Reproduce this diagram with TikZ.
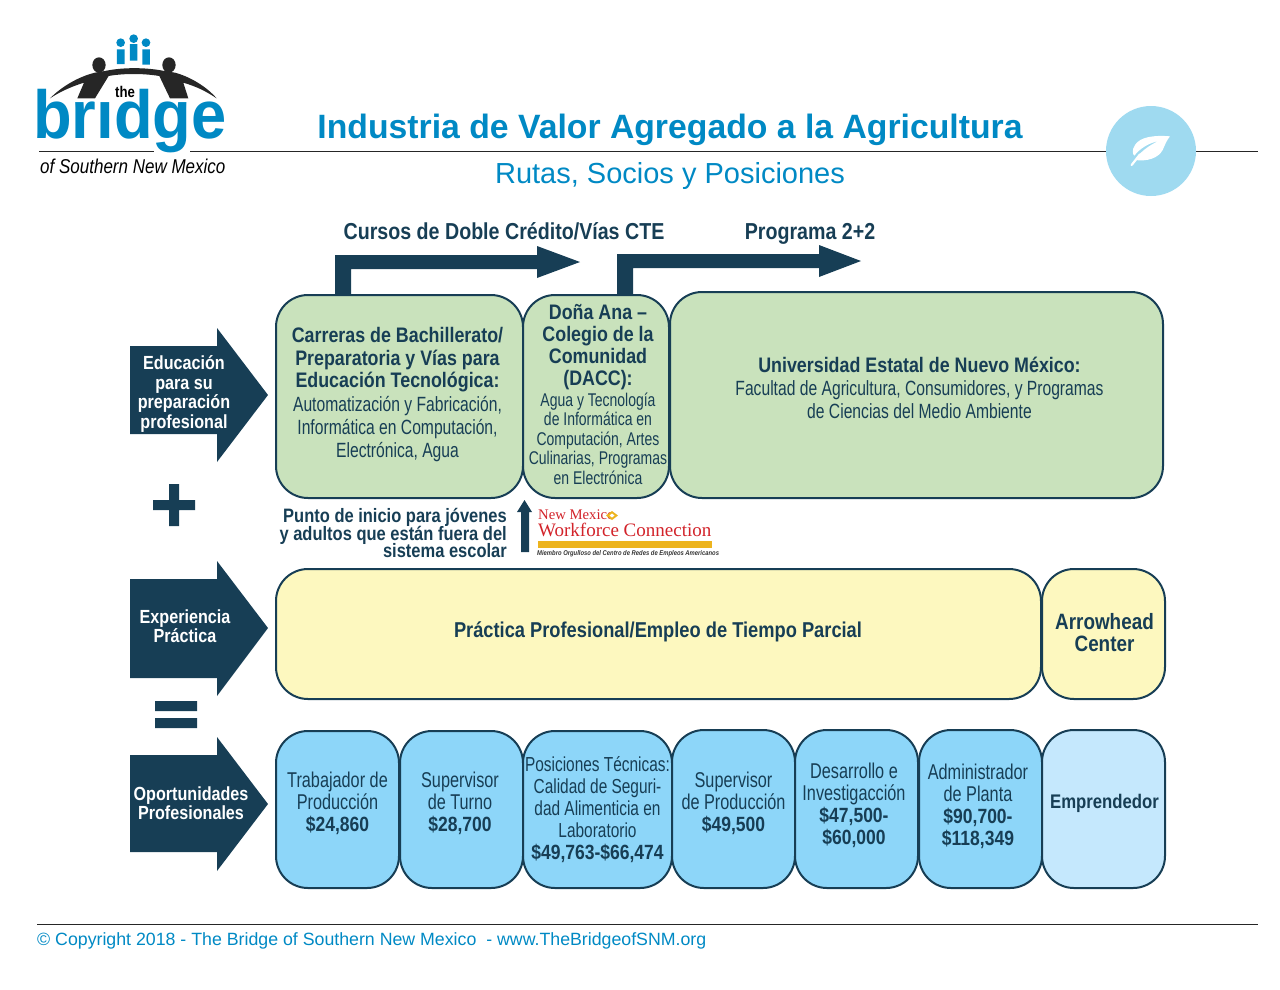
\documentclass[tikz,border=0pt]{standalone}
\usepackage{fontspec}
\setmainfont{Liberation Sans}
\newfontfamily\cnd[FakeStretch=0.76,BoldFeatures={FakeStretch=0.85}]{Liberation Sans}
\newfontfamily\lgo[FakeStretch=0.93]{Liberation Sans}
\newfontfamily\lgs[FakeStretch=0.85]{Liberation Sans}
\newfontfamily\wfc{Liberation Serif}
\definecolor{navy}{HTML}{173E55}
\definecolor{brandblue}{HTML}{0089C4}
\definecolor{lgreen}{HTML}{C9E2BC}
\definecolor{lyellow}{HTML}{FDF8BF}
\definecolor{mblue}{HTML}{8DD6F9}
\definecolor{pblue}{HTML}{C5E8FD}
\definecolor{circ}{HTML}{9FDAF0}
\definecolor{wred}{HTML}{D2232A}
\definecolor{wgold}{HTML}{EDB41E}
\tikzset{
  box/.style={draw=navy,line width=2pt,rounded corners=32pt,outer sep=0pt,inner sep=0pt,anchor=north west},
  lbl/.style={text=navy,align=center,inner sep=0pt,font=\cnd\fontsize{20.6}{23}\selectfont},
  jobl/.style={lbl,font=\cnd\fontsize{21.4}{22}\selectfont},
  sidelbl/.style={text=white,align=center,inner sep=0pt,font=\cnd\bfseries\fontsize{19}{19.5}\selectfont},
  headlbl/.style={text=navy,inner sep=0pt,font=\cnd\bfseries\fontsize{23.1}{26}\selectfont},
  rulee/.style={draw=black!85,line width=1pt},
  brandtxt/.style={text=brandblue,inner sep=0pt},
}
\newcommand{\bfl}[1]{{\bfseries\fontsize{21}{22.5}\selectfont #1}}
\newcommand{\mny}[1]{{\bfseries\fontsize{20.6}{22}\selectfont #1}}
\begin{document}
\begin{tikzpicture}[x=1pt,y=-1pt]
\useasboundingbox (0,0) rectangle (1280,989);
% rules
\coordinate (ruleA) at (39,151); \coordinate (ruleB) at (154,151);
\coordinate (ruleC) at (190,151); \coordinate (ruleD) at (1258,151);
\draw[rulee] (ruleA) -- (ruleB);
\draw[rulee] (ruleC) -- (ruleD);
\coordinate (footA) at (37,924); \coordinate (footB) at (1258,924);
\draw[rulee] (footA) -- (footB);
% logo
\begin{scope}[shift={(20,20)},x=0.3333pt,y=-0.3333pt]
  \fill[brandblue] (302,68) circle[radius=13] (341,56) circle[radius=13] (378,68) circle[radius=13];
  \fill[brandblue] (291,88) rectangle (314,132) (330,72) rectangle (352,122) (367,88) rectangle (390,134);
  \fill[black!85] (237,135) ellipse[x radius=20,y radius=23] (447,135) ellipse[x radius=20,y radius=23];
  \fill[black!85] (90,235) .. controls (125,200) and (175,170) .. (225,158) -- (260,152)
     .. controls (310,142) and (375,142) .. (428,152) -- (465,158)
     .. controls (510,170) and (560,200) .. (590,235)
     .. controls (555,212) and (530,200) .. (490,188) -- (505,235) -- (450,235) -- (418,168)
     .. controls (370,160) and (310,160) .. (266,168) -- (225,235) -- (172,235) -- (192,188)
     .. controls (160,198) and (125,212) .. (90,235) -- cycle;
\end{scope}
\node[inner sep=0pt,anchor=base] (logoThe) at (125,97.5) {\lgs\bfseries\fontsize{15.5}{15}\selectfont the};
\node[brandtxt,anchor=base west] (logoBridge) at (33,138) {\lgo\bfseries\fontsize{68}{68}\selectfont br\i dge};
\node[inner sep=0pt,anchor=base west] (logoSub) at (40,173.5) {\lgs\itshape\fontsize{20}{20}\selectfont of Southern New Mexico};
% title
\node[brandtxt,anchor=base] (title) at (670,138) {\bfseries\fontsize{33.75}{36}\selectfont Industria de Valor Agregado a la Agricultura};
\node[brandtxt,anchor=base] (subtitle) at (670,183.5) {\fontsize{29}{30}\selectfont Rutas, Socios y Posiciones};
% leaf circle
\fill[circ] (1151,151) circle[radius=45];
\begin{scope}[shift={(1090,95)},x=0.3333pt,y=-0.3333pt]
  \fill[white] (240,124) .. controls (195,120) and (150,125) .. (135,150)
    .. controls (125,165) and (128,178) .. (133,182)
    .. controls (150,160) and (175,145) .. (205,138)
    .. controls (180,150) and (150,170) .. (135,195)
    .. controls (170,200) and (205,190) .. (218,165)
    .. controls (225,150) and (230,135) .. (240,124) -- cycle;
  \draw[white,line width=2.2pt,line cap=round] (125,210) -- (150,178);
\end{scope}
% top labels & arrows
\node[headlbl,anchor=base] (hA) at (504,239) {Cursos de Doble Crédito/Vías CTE};
\node[headlbl,anchor=base] (hB) at (810,239) {Programa 2+2};
% boxes
\node[box,fill=lgreen,minimum width=247pt,minimum height=203pt] (g1) at (276,295) {};
\node[box,fill=lgreen,minimum width=146pt,minimum height=203pt] (g2) at (523,295) {};
\node[box,fill=lgreen,minimum width=493pt,minimum height=206pt] (g3) at (670,292) {};
\node[box,fill=lyellow,minimum width=765pt,minimum height=130pt] (y1) at (276,569) {};
\node[box,fill=lyellow,minimum width=123pt,minimum height=130pt] (y2) at (1042,569) {};
\node[box,fill=mblue,minimum width=123pt,minimum height=157pt] (b1) at (276,731) {};
\node[box,fill=mblue,minimum width=123pt,minimum height=157pt] (b2) at (400,731) {};
\node[box,fill=mblue,minimum width=149pt,minimum height=157pt] (b3) at (523,731) {};
\node[box,fill=mblue,minimum width=123pt,minimum height=158pt] (b4) at (672,730) {};
\node[box,fill=mblue,minimum width=123pt,minimum height=158pt] (b5) at (795,730) {};
\node[box,fill=mblue,minimum width=123pt,minimum height=158pt] (b6) at (919,730) {};
\node[box,fill=pblue,minimum width=123pt,minimum height=158pt] (b7) at (1042,730) {};
% bent arrows
\fill[navy] (335,295) -- (335,255) -- (537,255) -- (537,246) -- (580,262) -- (537,278) -- (537,269) -- (351,269) -- (351,295) -- cycle;
\fill[navy] (617,295) -- (617,254) -- (819,254) -- (819,245) -- (861,261) -- (819,277) -- (819,268) -- (633,268) -- (633,295) -- cycle;
% side arrows
\fill[navy] (130,346) -- (217,346) -- (217,328) -- (268,395) -- (217,462) -- (217,434) -- (130,434) -- cycle;
\fill[navy] (130,579) -- (217,579) -- (217,561) -- (268,628) -- (217,696) -- (217,678) -- (130,678) -- cycle;
\fill[navy] (130,755) -- (217,755) -- (217,737) -- (268,804) -- (217,871) -- (217,852) -- (130,852) -- cycle;
\node[sidelbl] (s1) at (184,394) {Educación\\para su\\preparación\\profesional};
\node[sidelbl] (s2) at (185,626) {Experiencia\\Práctica};
\node[sidelbl] (s3) at (191,803) {Oportunidades\\Profesionales};
% plus, equals
\fill[navy] (169,484) rectangle (179,526) (153,500) rectangle (195,510);
\fill[navy] (155,701) rectangle (197,711) (155,718) rectangle (197,728);
% text in boxes
\node[lbl] (t1) at (397.5,394.5) {\bfl{Carreras de Bachillerato/}\\[-0.5pt]\bfl{Preparatoria y Vías para}\\[-0.5pt]\bfl{Educación Tecnológica:}\\[0.5pt]Automatización y Fabricación,\\Informática en Computación,\\Electrónica, Agua};
\node[lbl,anchor=north] (t2a) at (598,304.5) {\bfl{Doña Ana –}\\[-1pt]\bfl{Colegio de la}\\[-1pt]\bfl{Comunidad}\\[-1pt]\bfl{(DACC):}};
\node[lbl,anchor=north,font=\cnd\fontsize{18.4}{19.5}\selectfont] (t2b) at (598,392.5) {Agua y Tecnología\\de Informática en\\Computación, Artes\\Culinarias, Programas\\en Electrónica};
\node[lbl] (t3) at (919.5,387.5) {\bfl{Universidad Estatal de Nuevo México:}\\Facultad de Agricultura, Consumidores, y Programas\\de Ciencias del Medio Ambiente};
\node[lbl,font=\cnd\bfseries\fontsize{21.5}{22}\selectfont] (t4) at (658,631.5) {Práctica Profesional/Empleo de Tiempo Parcial};
\node[lbl,font=\cnd\bfseries\fontsize{22.2}{22}\selectfont] (t5) at (1104.5,632.5) {Arrowhead\\Center};
\node[jobl] (t6) at (337.5,803) {Trabajador de\\Producción\\\mny{\$24,860}};
\node[jobl] (t7) at (460,803) {Supervisor\\de Turno\\\mny{\$28,700}};
\node[jobl,font=\cnd\fontsize{20.3}{22}\selectfont] (t8) at (597.5,809.5) {Posiciones Técnicas:\\Calidad de Seguri-\\dad Alimenticia en\\Laboratorio\\\mny{\$49,763-\$66,474}};
\node[jobl] (t9) at (733.5,803) {Supervisor\\de Producción\\\mny{\$49,500}};
\node[jobl] (t10) at (854,805) {Desarrollo e\\Investigacción\\\mny{\$47,500-}\\\mny{\$60,000}};
\node[jobl] (t11) at (978,806) {Administrador\\de Planta\\\mny{\$90,700-}\\\mny{\$118,349}};
\node[lbl,font=\cnd\bfseries\fontsize{19.7}{22}\selectfont] (t12) at (1104.5,803.5) {Emprendedor};
% start point
\node[lbl,align=right,anchor=east,font=\cnd\bfseries\fontsize{19.4}{18}\selectfont] (pi) at (507,533) {Punto de inicio para jóvenes\\[-2pt]y adultos que están fuera del\\[-2pt]sistema escolar};
\fill[navy] (521,552) -- (529,552) -- (529,512) -- (532,512) -- (524.5,500) -- (517,512) -- (521,512) -- cycle;
% workforce logo
\node[inner sep=0pt,anchor=base west,text=wred] (w1) at (538,519) {\wfc\fontsize{14.7}{15}\selectfont New Mexico};
\fill[wgold] (612,511) -- (618,515.5) -- (612,520) -- (606,515.5) -- cycle;
\fill[white] (612,513.5) -- (614.5,515.5) -- (612,517.5) -- (609.5,515.5) -- cycle;
\node[inner sep=0pt,anchor=base west,text=wred] (w2) at (538,536.5) {\wfc\fontsize{19}{20}\selectfont Workforce Connection};
\fill[wgold] (538,541) rectangle (712,547.5);
\node[inner sep=0pt,anchor=base west,text=black!80] (w3) at (537,555) {\lgs\bfseries\itshape\fontsize{6.9}{7}\selectfont Miembro Orgulloso del Centro de Redes de Empleos Americanos};
% footer
\node[brandtxt,anchor=base west] (foot) at (37,945) {\fontsize{17.75}{18}\selectfont © Copyright 2018 - The Bridge of Southern New Mexico\ \ - www.TheBridgeofSNM.org};
\end{tikzpicture}
\end{document}
